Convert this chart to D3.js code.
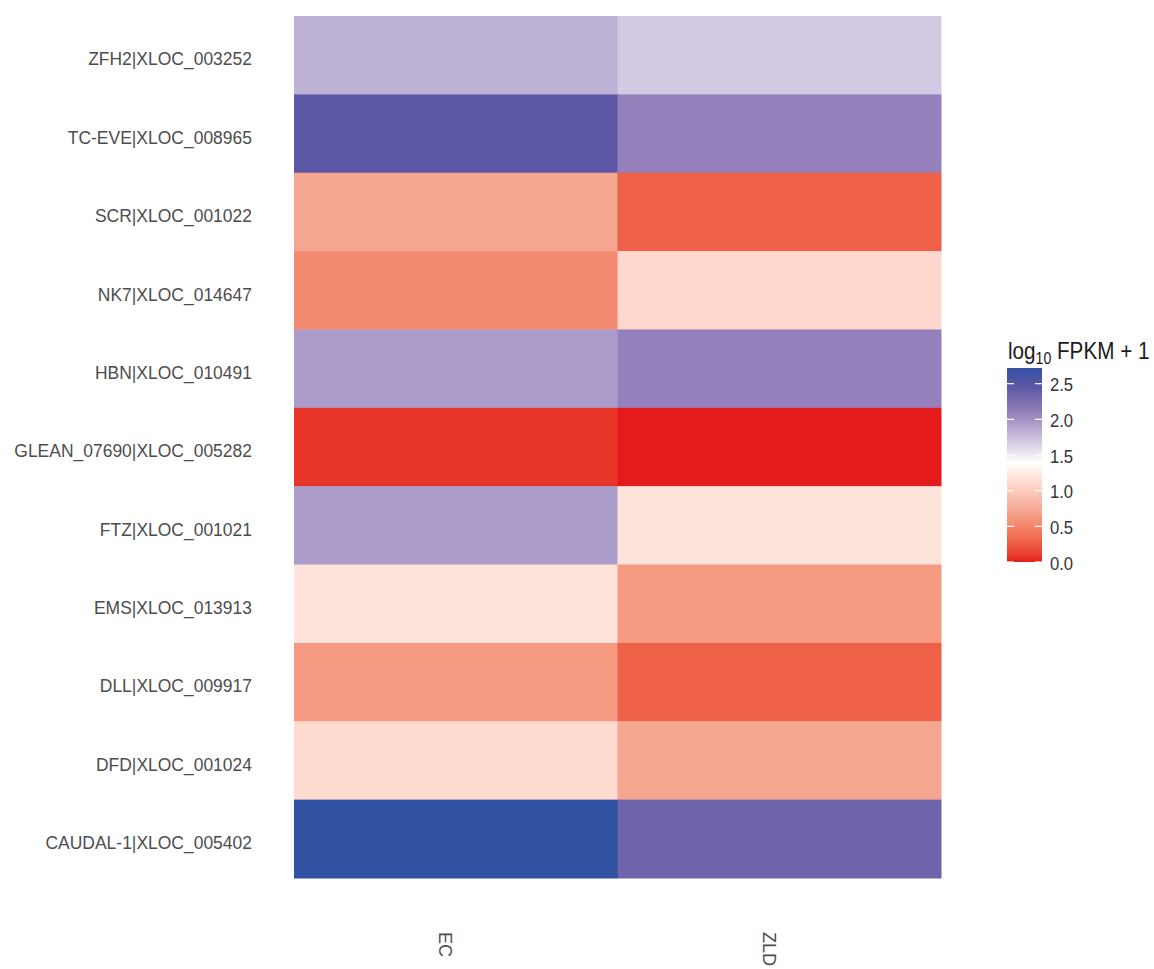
<!DOCTYPE html>
<html>
<head>
<meta charset="utf-8">
<script src="https://cdn.jsdelivr.net/npm/d3@7"></script>
<style>
  html, body { margin: 0; padding: 0; background: #ffffff; }
  svg { display: block; }
  text { font-family: "Liberation Sans", Arial, sans-serif; }
</style>
</head>
<body>
<script>
// ---- data ----
const genes = [
  "ZFH2|XLOC_003252",
  "TC-EVE|XLOC_008965",
  "SCR|XLOC_001022",
  "NK7|XLOC_014647",
  "HBN|XLOC_010491",
  "GLEAN_07690|XLOC_005282",
  "FTZ|XLOC_001021",
  "EMS|XLOC_013913",
  "DLL|XLOC_009917",
  "DFD|XLOC_001024",
  "CAUDAL-1|XLOC_005402"
];
const samples = ["EC", "ZLD"];
const ecValues  = [1.82, 2.45, 0.71, 0.53, 1.94, 0.08, 1.94, 1.19, 0.62, 1.11, 2.72];
const zldValues = [1.69, 2.10, 0.28, 1.10, 2.10, 0.00, 1.19, 0.62, 0.28, 0.71, 2.34];
const legendTicks = [0.0, 0.5, 1.0, 1.5, 2.0, 2.5];
const legendTitleMain = "log";
const legendTitleSub = "10";
const legendTitleRest = " FPKM + 1";

// ---- build ----
const W = 1154, H = 969;
const cells = [];
genes.forEach((g, i) => {
  cells.push({ gene: g, sample: samples[0], value: ecValues[i] });
  cells.push({ gene: g, sample: samples[1], value: zldValues[i] });
});
const allValues = ecValues.concat(zldValues);
const vMin = d3.min(allValues), vMax = d3.max(allValues);

const svg = d3.select("body").append("svg")
  .attr("width", W).attr("height", H)
  .style("background", "#ffffff");

const plot = { left: 294, right: 941, top: 16, bottom: 878 };

const x = d3.scaleBand().domain(samples).range([plot.left, plot.right]).padding(0);
const y = d3.scaleBand().domain(genes).range([plot.top, plot.bottom]).padding(0);

const color = d3.scaleLinear()
  .domain([vMin, 0.7, 1.4, 2.1, 2.45, vMax])
  .range(["#e41a1c", "#f5a58e", "#ffffff", "#9480bb", "#5c58a5", "#3151a3"])
  .interpolate(d3.interpolateLab)
  .clamp(true);

// cells
svg.append("g").selectAll("rect")
  .data(cells)
  .join("rect")
  .attr("x", d => x(d.sample))
  .attr("y", d => y(d.gene))
  .attr("width", x.bandwidth() + 0.5)
  .attr("height", y.bandwidth() + 0.5)
  .attr("fill", d => color(d.value));

// y axis labels
const yAxis = svg.append("g");
yAxis.selectAll("text")
  .data(genes)
  .join("text")
  .attr("transform", d => `translate(252, ${y(d) + y.bandwidth() / 2 + 10.3}) scale(0.92,1)`)
  .attr("text-anchor", "end")
  .attr("font-size", 19)
  .attr("fill", "#4d4d4d")
  .text(d => d);

// x axis labels (rotated)
const xAxis = svg.append("g");
xAxis.selectAll("text")
  .data(samples)
  .join("text")
  .attr("transform", d => `translate(${x(d) + x.bandwidth() / 2 - 16.5}, 932) rotate(90)`)
  .attr("text-anchor", "start")
  .attr("font-size", 18)
  .attr("fill", "#4d4d4d")
  .text(d => d);

// ---- legend ----
const bar = { x: 1007, w: 35, top: 368, bottom: 562 };
const ly = d3.scaleLinear().domain([vMin, vMax]).range([bar.bottom, bar.top]);

const defs = svg.append("defs");
const grad = defs.append("linearGradient")
  .attr("id", "cbar")
  .attr("x1", 0).attr("y1", 1).attr("x2", 0).attr("y2", 0);
const nStops = 80;
d3.range(nStops + 1).forEach(i => {
  const v = vMin + (vMax - vMin) * i / nStops;
  grad.append("stop").attr("offset", i / nStops).attr("stop-color", color(v));
});
const legend = svg.append("g");
legend.append("rect")
  .attr("x", bar.x).attr("y", bar.top)
  .attr("width", bar.w).attr("height", bar.bottom - bar.top)
  .attr("fill", "url(#cbar)");

legend.selectAll("line.tl")
  .data(legendTicks)
  .join("line")
  .attr("class", "tl")
  .attr("x1", bar.x).attr("x2", bar.x + 7)
  .attr("y1", d => ly(d)).attr("y2", d => ly(d))
  .attr("stroke", "#ffffff").attr("stroke-width", 1.2);
legend.selectAll("line.tr")
  .data(legendTicks)
  .join("line")
  .attr("class", "tr")
  .attr("x1", bar.x + bar.w - 7).attr("x2", bar.x + bar.w)
  .attr("y1", d => ly(d)).attr("y2", d => ly(d))
  .attr("stroke", "#ffffff").attr("stroke-width", 1.2);

legend.selectAll("text.lab")
  .data(legendTicks)
  .join("text")
  .attr("class", "lab")
  .attr("transform", d => `translate(1050, ${ly(d) + 7.5}) scale(0.9,1)`)
  .attr("font-size", 18.5)
  .attr("fill", "#333333")
  .text(d => d3.format(".1f")(d));

const title = legend.append("text")
  .attr("transform", "translate(1008, 359) scale(0.88,1)")
  .attr("font-size", 23.5)
  .attr("fill", "#1a1a1a");
title.append("tspan").text(legendTitleMain);
title.append("tspan").attr("font-size", 16).attr("dy", 5).text(legendTitleSub);
title.append("tspan").attr("dy", -5).text(legendTitleRest);
</script>
</body>
</html>
